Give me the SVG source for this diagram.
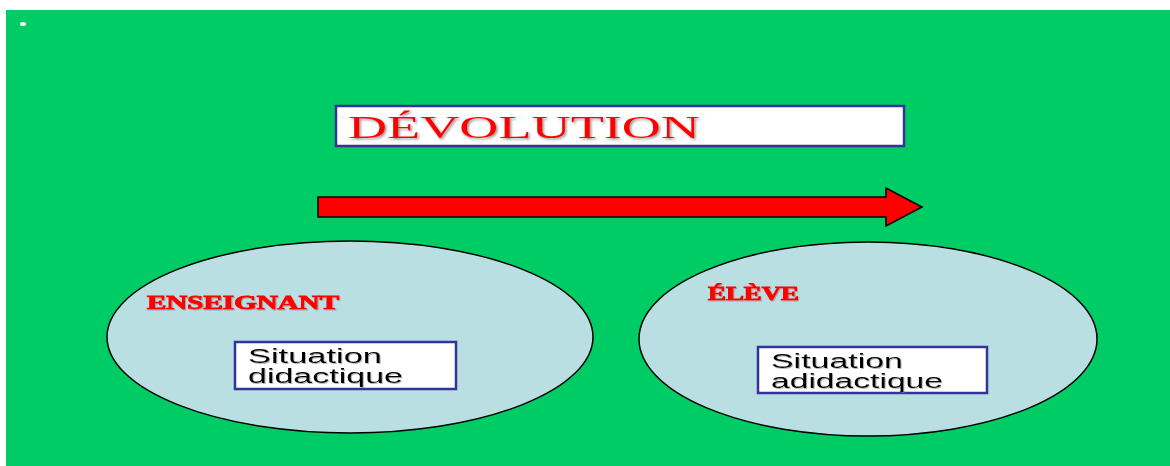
<svg xmlns="http://www.w3.org/2000/svg" width="1170" height="466" viewBox="0 0 1170 466">
  <defs>
    <filter id="sh" x="-5%" y="-20%" width="110%" height="150%">
      <feDropShadow dx="1.5" dy="1.5" stdDeviation="0.8" flood-color="#666" flood-opacity="0.7"/>
    </filter>
    <filter id="sh2" x="-5%" y="-20%" width="110%" height="150%">
      <feDropShadow dx="1" dy="1" stdDeviation="0.5" flood-color="#888" flood-opacity="0.6"/>
    </filter>
  </defs>
  <style>
    .ell { fill: #b9dfe3; stroke: #000; stroke-width: 1.5; }
    .box { fill: #fff; stroke: #333399; stroke-width: 2.5; }
    .title { font-family: "Liberation Serif", serif; font-size: 31px; fill: #ff0000; }
    .role { font-family: "Liberation Serif", serif; font-weight: bold; font-size: 18px; fill: #ff0000; stroke: #ff0000; stroke-width: 0.9; }
    .lab { font-family: "Liberation Sans", Arial, sans-serif; font-size: 20px; fill: #000; }
  </style>
  <rect x="0" y="0" width="1170" height="466" fill="#fff"/>
  <rect x="6" y="10" width="1164" height="456" fill="#00cc66"/>
  <ellipse cx="23" cy="24" rx="3" ry="2" fill="#fff"/>

  <g id="devolution">
    <rect class="box" x="336" y="106" width="568" height="40"/>
    <text class="title" x="348" y="138" textLength="352" lengthAdjust="spacingAndGlyphs" filter="url(#sh)">DÉVOLUTION</text>
  </g>

  <g id="connectors">
    <polygon points="318,197 886,197 886,188 922,207 886,226 886,217 318,217" fill="#ff0000" stroke="#000" stroke-width="1.5"/>
  </g>

  <g id="enseignant">
    <ellipse class="ell" cx="350" cy="337" rx="243" ry="96"/>
    <text class="role" x="147" y="309" textLength="192" lengthAdjust="spacingAndGlyphs" filter="url(#sh2)">ENSEIGNANT</text>
    <rect class="box" x="235" y="342" width="221" height="47"/>
    <text class="lab" x="248" y="363" textLength="134" lengthAdjust="spacingAndGlyphs" filter="url(#sh2)">Situation</text>
    <text class="lab" x="248" y="383" textLength="155" lengthAdjust="spacingAndGlyphs" filter="url(#sh2)">didactique</text>
  </g>

  <g id="eleve">
    <ellipse class="ell" cx="868" cy="339" rx="229" ry="97"/>
    <text class="role" x="708" y="300" textLength="91" lengthAdjust="spacingAndGlyphs" filter="url(#sh2)">ÉLÈVE</text>
    <rect class="box" x="758" y="347" width="229" height="46"/>
    <text class="lab" x="771" y="368" textLength="132" lengthAdjust="spacingAndGlyphs" filter="url(#sh2)">Situation</text>
    <text class="lab" x="771" y="388" textLength="172" lengthAdjust="spacingAndGlyphs" filter="url(#sh2)">adidactique</text>
  </g>
</svg>
